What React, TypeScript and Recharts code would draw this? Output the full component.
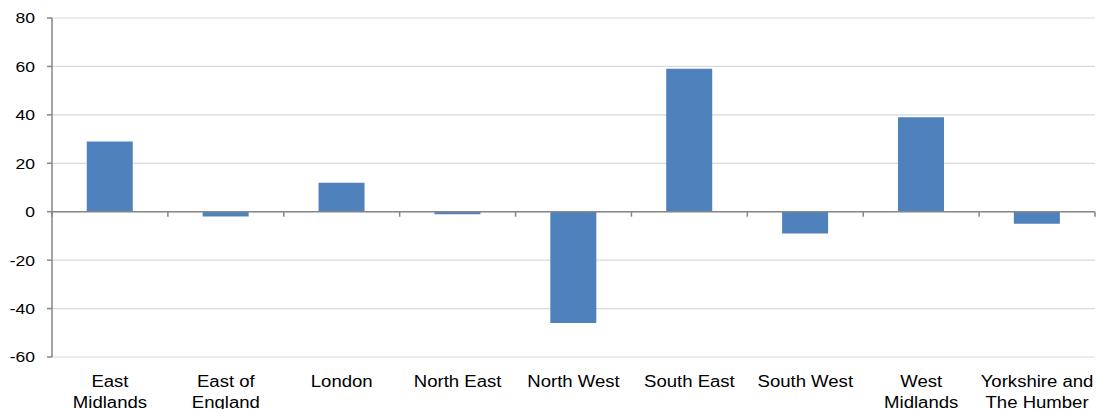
import React from "react";
import { BarChart, Bar, XAxis, YAxis, CartesianGrid, ReferenceLine } from "recharts";

const categories = [
  "East Midlands",
  "East of England",
  "London",
  "North East",
  "North West",
  "South East",
  "South West",
  "West Midlands",
  "Yorkshire and The Humber",
];
const tickLines: string[][] = [
  ["East", "Midlands"],
  ["East of", "England"],
  ["London"],
  ["North East"],
  ["North West"],
  ["South East"],
  ["South West"],
  ["West", "Midlands"],
  ["Yorkshire and", "The Humber"],
];
const values = [29, -2, 12, -1, -46, 59, -9, 39, -5];
const yTicks = [-60, -40, -20, 0, 20, 40, 60, 80];

const data = categories.map((c, i) => ({ name: c, value: values[i] }));

const AXIS = "#868686";
const FONT = "'Liberation Sans', Arial, sans-serif";

const XTick = (props: any) => {
  const { x, y, payload } = props;
  const lines = tickLines[payload.index] || [payload.value];
  return (
    <g transform={`translate(${x},${y}) scale(1.16,1)`}>
      <text x={0} y={0} textAnchor="middle" fontFamily={FONT} fontSize={16} fill="#000">
        {lines.map((l, i) => (
          <tspan key={i} x={0} dy={i === 0 ? 22 : 21}>
            {l}
          </tspan>
        ))}
      </text>
    </g>
  );
};

const YTick = (props: any) => {
  const { x, y, payload } = props;
  return (
    <g transform={`translate(${x},${y}) scale(1.17,1)`}>
      <text x={0} y={0} dy="0.36em" textAnchor="end" fontFamily={FONT} fontSize={15} fill="#000">
        {payload.value}
      </text>
    </g>
  );
};

const ZeroAxis = (props: any) => {
  const { x1, y1, x2, y2 } = props;
  const n = categories.length;
  const step = (x2 - x1) / n;
  const ticks = [];
  for (let i = 0; i <= n; i++) {
    const tx = x1 + step * i;
    ticks.push(<line key={i} x1={tx} x2={tx} y1={y1} y2={y1 + 5} stroke={AXIS} strokeWidth={1.5} />);
  }
  return (
    <g>
      <line x1={x1} y1={y1} x2={x2} y2={y2} stroke={AXIS} strokeWidth={1.5} />
      {ticks}
    </g>
  );
};

export default function App() {
  return (
    <div style={{ position: "fixed", left: 0, top: 0, width: 1097, height: 409, background: "#fff" }}>
      <BarChart
        width={1097}
        height={409}
        data={data}
        margin={{ top: 18, right: 2, bottom: 0, left: 0 }}
        barCategoryGap="30%"
      >
        <CartesianGrid vertical={false} stroke="#D9D9D9" strokeWidth={1.2} />
        <XAxis
          dataKey="name"
          height={52}
          axisLine={false}
          tickLine={false}
          interval={0}
          tick={<XTick />}
        />
        <YAxis
          width={52}
          domain={[-60, 80]}
          ticks={yTicks}
          interval={0}
          axisLine={{ stroke: AXIS, strokeWidth: 1.5 }}
          tickLine={{ stroke: AXIS, strokeWidth: 1.5 }}
          tickSize={5}
          tickMargin={12}
          tick={<YTick />}
        />
        <Bar dataKey="value" fill="#4F81BD" isAnimationActive={false} />
        <ReferenceLine y={0} shape={<ZeroAxis />} />
      </BarChart>
    </div>
  );
}
